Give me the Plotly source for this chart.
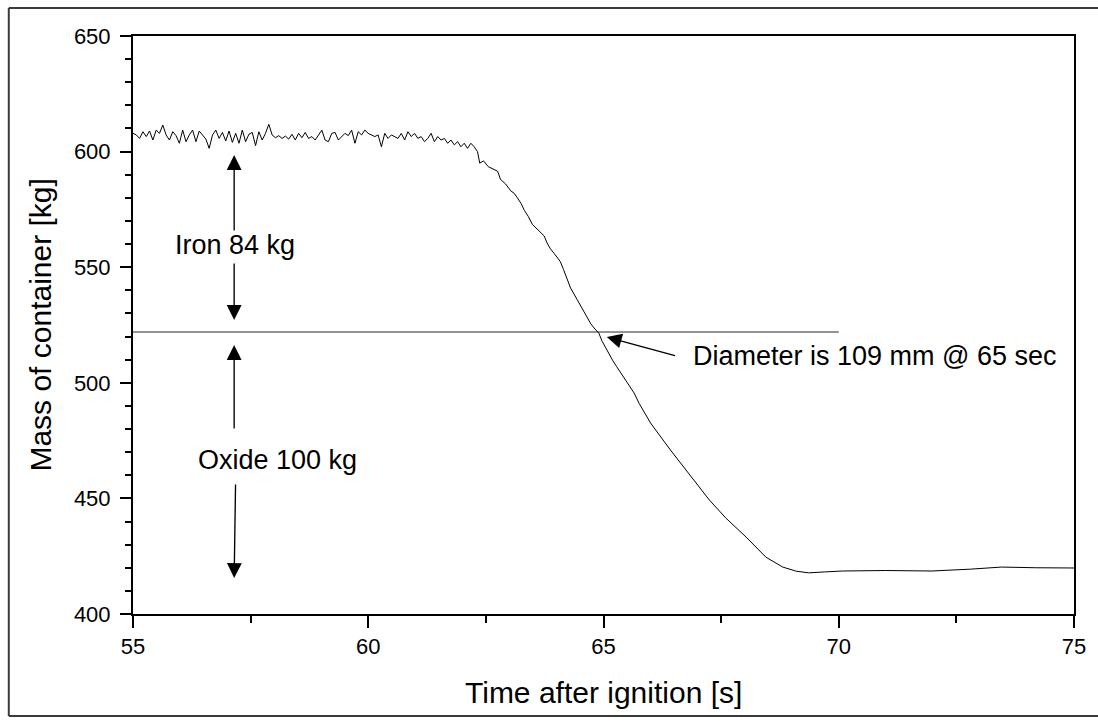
import plotly.graph_objects as go

# ---------------- data ----------------
# plateau: noisy readings sampled every ~0.0704 s starting at 55.0 s
plateau_start = 55.0
plateau_step = 0.0704
plateau_mass = [
    607.9, 607.2, 605.7, 608.6, 606.5, 608.9, 605.0, 609.3, 607.9, 611.5,
    607.2, 605.0, 608.6, 606.9, 603.6, 609.3, 604.3, 607.2, 609.3, 604.3,
    608.9, 607.2, 605.4, 601.4, 607.2, 609.3, 605.7, 608.3, 604.6, 608.9,
    604.0, 607.9, 603.6, 609.3, 604.3, 607.5, 608.3, 602.6, 608.6, 605.0,
    607.9, 611.8, 607.2, 606.0, 606.9, 605.7, 606.7, 605.4, 607.5, 605.0,
    607.9, 606.0, 608.3, 605.7,
    606.5, 605.0, 607.2, 609.3, 605.0, 604.3, 607.9, 608.3, 605.0, 606.5,
    607.9, 606.9, 609.3, 603.6, 608.6, 607.2, 609.3, 607.9, 607.2, 606.5,
    607.2, 602.1, 607.9, 605.7, 607.2, 606.5, 605.7, 607.9, 605.0, 608.6,
    606.5, 607.9, 605.7, 606.5, 604.3, 605.7, 607.9, 604.3, 606.5, 605.0,
    605.7, 603.6, 605.0, 602.9, 604.3, 602.1, 603.6, 601.4, 603.6, 602.1,
    600.0,
]
# descent and final level
descent_time = [
    62.37, 62.45, 62.55, 62.69, 62.75, 62.81, 62.92, 63.03, 63.10, 63.17,
    63.25, 63.32, 63.40, 63.49, 63.57, 63.65, 63.74, 63.80, 63.87, 63.95,
    64.08, 64.15, 64.23, 64.30, 64.44, 64.52, 64.65, 64.73, 64.80, 64.90,
    64.97, 65.07, 65.20, 65.28, 65.49, 65.65, 65.76, 66.00, 66.42, 66.76,
    67.25, 67.60, 68.03, 68.45, 68.81, 69.10, 69.36, 69.70, 70.08, 71.00,
    71.98, 72.80, 73.46, 74.20, 75.00,
]
descent_mass = [
    595.0, 596.0, 593.5, 592.0, 591.5, 588.0, 586.0, 583.0, 582.0, 580.0,
    577.5, 574.5, 572.0, 568.5, 567.0, 565.5, 563.5, 560.5, 558.0, 556.0,
    552.5, 549.0, 544.5, 541.0, 536.0, 533.0, 528.5, 525.5, 523.7, 521.5,
    518.0, 514.0, 509.5, 507.0, 500.5, 495.6, 491.0, 482.6, 471.0, 462.3,
    449.3, 441.5, 433.3, 424.6, 420.3, 418.5, 417.8, 418.2, 418.6, 418.8,
    418.6, 419.4, 420.3, 420.0, 419.9,
]

level_mass = 522.0
level_time = [55.0, 70.0]

x_ticks = [55, 60, 65, 70, 75]
y_ticks = [400, 450, 500, 550, 600, 650]

x_title = "Time after ignition [s]"
y_title = "Mass of container [kg]"

arrow_x = 57.15
iron_label = "Iron 84 kg"
oxide_label = "Oxide 100 kg"
diam_label = "Diameter is 109 mm @ 65 sec"

# ---------------- figure ----------------
plateau_time = [round(plateau_start + i * plateau_step, 4) for i in range(len(plateau_mass))]
time_all = plateau_time + descent_time
mass_all = plateau_mass + descent_mass

FONT = "Arial, Liberation Sans, sans-serif"
W, H = 1098, 724
L, R, T, B = 133, 18, 36, 110
PW, PH = W - L - R, H - T - B


def px_x(p):
    return (p - L) / PW


def px_y(p):
    return (H - B - p) / PH


fig = go.Figure()
fig.add_trace(go.Scatter(x=level_time, y=[level_mass, level_mass], mode="lines",
                         line=dict(color="#6e6e6e", width=1.5), hoverinfo="skip",
                         showlegend=False))
fig.add_trace(go.Scatter(x=time_all, y=mass_all, mode="lines",
                         line=dict(color="black", width=1), showlegend=False))

axis_common = dict(
    showgrid=False, zeroline=False, showline=True, linecolor="black", linewidth=2,
    mirror=True, ticks="outside", tickwidth=2, tickcolor="black",
    tickfont=dict(family=FONT, size=22, color="black"),
)
fig.update_xaxes(range=[55, 75], tickvals=x_ticks, ticklen=12,
                 minor=dict(dtick=2.5, ticks="outside", ticklen=7, tickwidth=2, tickcolor="black"),
                 **axis_common)
fig.update_yaxes(range=[400, 650], tickvals=y_ticks, ticklen=11, ticklabelstandoff=5,
                 minor=dict(dtick=10, ticks="outside", ticklen=6, tickwidth=2, tickcolor="black"),
                 **axis_common)

ann = []


def arrow(x_tip, y_tip, x_tail, y_tail):
    ann.append(dict(x=x_tip, y=y_tip, ax=x_tail, ay=y_tail, xref="x", yref="y",
                    axref="x", ayref="y", showarrow=True, arrowhead=2, arrowsize=2.2,
                    arrowwidth=1.35, arrowcolor="black", text=""))


arrow(arrow_x, 598.5, arrow_x, 565.2)
arrow(arrow_x, 527.2, arrow_x, 552.2)
arrow(arrow_x, 516.3, arrow_x, 479.6)
arrow(arrow_x, 415.6, arrow_x + 0.03, 456.7)
arrow(65.07, 519.8, 66.55, 511.6)

afont = dict(family=FONT, size=27, color="black")
ann.append(dict(x=55.845, y=559.6, xref="x", yref="y", text=iron_label, showarrow=False,
                xanchor="left", yanchor="middle", font=afont))
ann.append(dict(x=56.33, y=466.6, xref="x", yref="y", text=oxide_label, showarrow=False,
                xanchor="left", yanchor="middle", font=afont))
ann.append(dict(x=66.87, y=511.5, xref="x", yref="y", text=diam_label, showarrow=False,
                xanchor="left", yanchor="middle", font=afont))

tfont = dict(family=FONT, size=30, color="black")
ann.append(dict(x=0.5, y=px_y(692.5), xref="paper", yref="paper", text=x_title, showarrow=False,
                xanchor="center", yanchor="middle", font=tfont))
ann.append(dict(x=px_x(39), y=0.5, xref="paper", yref="paper", text=y_title, showarrow=False,
                xanchor="center", yanchor="middle", textangle=-90, font=tfont))

border = dict(color="#3a3a3a", width=2)
shapes = [
    dict(type="line", xref="paper", yref="paper", x0=px_x(8), x1=px_x(1110),
         y0=px_y(8), y1=px_y(8), line=border, layer="below"),
    dict(type="line", xref="paper", yref="paper", x0=px_x(8), x1=px_x(8),
         y0=px_y(8), y1=px_y(716), line=border, layer="below"),
    dict(type="line", xref="paper", yref="paper", x0=px_x(8), x1=px_x(1110),
         y0=px_y(716), y1=px_y(716), line=border, layer="below"),
]

fig.update_layout(
    width=W, height=H,
    margin=dict(l=L, r=R, t=T, b=B),
    paper_bgcolor="white", plot_bgcolor="white",
    annotations=ann,
    shapes=shapes,
)

fig.write_html("out.html")
